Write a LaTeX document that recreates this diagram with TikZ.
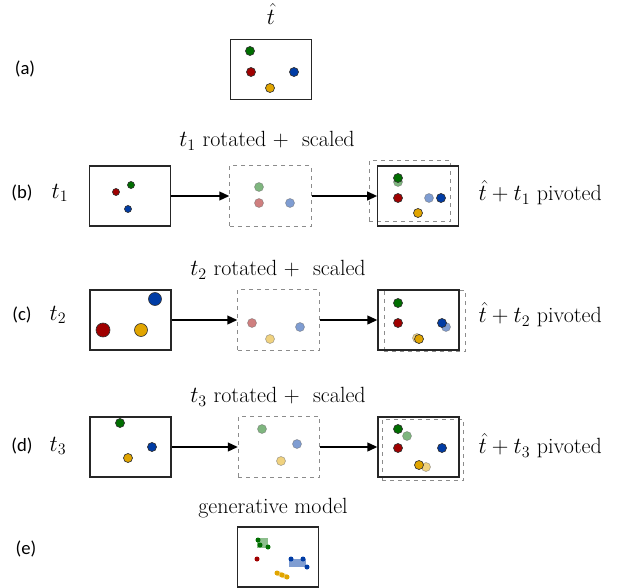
\documentclass[tikz,border=0pt]{standalone}
\usepackage{fontspec}
\usepackage{amsmath}
\newfontfamily\lblfont{Carlito}
\usetikzlibrary{arrows.meta}
\definecolor{dgreen}{RGB}{0,110,0}
\definecolor{dred}{RGB}{160,0,0}
\definecolor{dblue}{RGB}{0,60,165}
\definecolor{dyellow}{RGB}{225,165,0}

\begin{document}
\begin{tikzpicture}[x=0.75pt,y=-0.75pt,
  frame/.style={draw=black!85,line width=0.9pt,inner sep=0pt,minimum width=60.75pt,minimum height=45pt},
  ghost/.style={draw=black!45,dashed,line width=0.7pt,inner sep=0pt,minimum width=61pt,minimum height=45.5pt},
  arr/.style={-{Triangle[length=7.5pt,width=6.5pt]},line width=1.4pt},
  dot/.style={draw=black!80,line width=0.5pt},
  pale/.style={draw=black!60,line width=0.5pt,opacity=0.5},
  capt/.style={font=\fontsize{16.5}{18}\selectfont},
  tag/.style={font=\lblfont\fontsize{14}{16}\selectfont}]
\useasboundingbox (0,0) rectangle (624,588);

% (a) template
\node[tag] (la) at (25,69) {(a)};
\node[capt] (that) at (271,14) {$\hat{t}$};
\node[frame] (a) at (271,69.5) {};
\fill[dot,fill=dgreen] (250,51) circle (4.5);
\fill[dot,fill=dred] (251,72) circle (4.5);
\fill[dot,fill=dblue] (294,72) circle (4.5);
\fill[dot,fill=dyellow] (270,88) circle (4.5);

% (b)
\node[tag] (lb) at (22,193) {(b)};
\node[capt] (tb) at (60,193) {$t_1$};
\node[capt] (cb) at (267,141) {$t_1$ rotated + \ scaled};
\node[frame] (b1) at (130,196) {};
\node[ghost] (b2) at (270.5,196) {};
\node[ghost] (b3g) at (410,191) {};
\node[frame] (b3) at (418.3,196) {};
\node[capt,anchor=west] (pb) at (474,193) {$\hat{t}+t_1$ pivoted};
\draw[arr] (b1.east) -- (b1.east -| b2.west);
\draw[arr] (b2.east) -- (b2.east -| b3.west);
\fill[dot,fill=dred] (116,192) circle (3.5);
\fill[dot,fill=dgreen] (131,185) circle (3.5);
\fill[dot,fill=dblue] (128,209) circle (3.5);
\fill[pale,fill=dgreen] (259,187) circle (4.5);
\fill[pale,fill=dred] (259,203) circle (4.5);
\fill[pale,fill=dblue] (290,203) circle (4.5);
\fill[pale,fill=dgreen] (398,182) circle (4.5);
\fill[pale,fill=dblue] (429,198) circle (4.5);
\fill[dot,fill=dgreen] (398,178) circle (4.5);
\fill[dot,fill=dred] (398,198) circle (4.5);
\fill[dot,fill=dblue] (441,198) circle (4.5);
\fill[dot,fill=dyellow] (418,213) circle (4.5);

% (c)
\node[tag] (lc) at (22,315) {(c)};
\node[capt] (tc) at (58,315) {$t_2$};
\node[capt] (cc) at (278,270) {$t_2$ rotated + \ scaled};
\node[frame] (c1) at (130.5,320) {};
\node[ghost] (c2) at (278.5,320) {};
\node[ghost] (c3g) at (425,321) {};
\node[frame] (c3) at (418.5,320) {};
\node[capt,anchor=west] (pc) at (474,315) {$\hat{t}+t_2$ pivoted};
\draw[arr] (c1.east) -- (c1.east -| c2.west);
\draw[arr] (c2.east) -- (c2.east -| c3.west);
\fill[dot,fill=dblue] (155,299) circle (6.5);
\fill[dot,fill=dred] (103,330) circle (7);
\fill[dot,fill=dyellow] (141,330) circle (6.5);
\fill[pale,fill=dred] (252,323) circle (4.5);
\fill[pale,fill=dyellow] (270,339) circle (4.5);
\fill[pale,fill=dblue] (300,327) circle (4.5);
\fill[pale,fill=dblue] (446,327) circle (4.5);
\fill[pale,fill=dyellow] (417,338) circle (4.5);
\fill[dot,fill=dgreen] (398,303) circle (4.5);
\fill[dot,fill=dred] (398,323) circle (4.5);
\fill[dot,fill=dblue] (442,323) circle (4.5);
\fill[dot,fill=dyellow] (419,339) circle (4.5);

% (d)
\node[tag] (ld) at (22,446) {(d)};
\node[capt] (td) at (58,446) {$t_3$};
\node[capt] (cd) at (278,397) {$t_3$ rotated + \ scaled};
\node[frame] (d1) at (130.5,447) {};
\node[ghost] (d2) at (279,447) {};
\node[ghost] (d3g) at (423,450) {};
\node[frame] (d3) at (418.5,447) {};
\node[capt,anchor=west] (pd) at (474,446) {$\hat{t}+t_3$ pivoted};
\draw[arr] (d1.east) -- (d1.east -| d2.west);
\draw[arr] (d2.east) -- (d2.east -| d3.west);
\fill[dot,fill=dgreen] (120,423) circle (4.5);
\fill[dot,fill=dblue] (152,447) circle (4.5);
\fill[dot,fill=dyellow] (128,458) circle (4.5);
\fill[pale,fill=dgreen] (262,429) circle (4.5);
\fill[pale,fill=dblue] (297,444) circle (4.5);
\fill[pale,fill=dyellow] (281,461) circle (4.5);
\fill[pale,fill=dgreen] (407,436) circle (4.5);
\fill[pale,fill=dyellow] (426,467) circle (4.5);
\fill[dot,fill=dgreen] (398,429) circle (4.5);
\fill[dot,fill=dred] (398,448) circle (4.5);
\fill[dot,fill=dblue] (442,448) circle (4.5);
\fill[dot,fill=dyellow] (419,465) circle (4.5);

% (e) generative model
\node[tag] (le) at (26,549) {(e)};
\node[capt] (ce) at (273,508) {generative model};
\node[frame] (e) at (278,557) {};
\fill[dgreen,opacity=0.45] (257,538) rectangle (268,548);
\fill[dblue,opacity=0.5] (289,559) rectangle (306,567);
\draw[dyellow,opacity=0.5,line width=3.5pt] (277,573) -- (287,577);
\fill[dgreen] (258,540) circle (2.5);
\fill[dgreen] (260,545) circle (2.5);
\fill[dgreen] (268,547) circle (2.5);
\fill[dred] (257,559) circle (2.5);
\fill[dblue] (291,559) circle (2.5);
\fill[dblue] (303,559) circle (2.5);
\fill[dblue] (307,567) circle (2.5);
\fill[dyellow] (277,573) circle (2.5);
\fill[dyellow] (282,575) circle (2.5);
\fill[dyellow] (287,577) circle (2.5);
\end{tikzpicture}
\end{document}
